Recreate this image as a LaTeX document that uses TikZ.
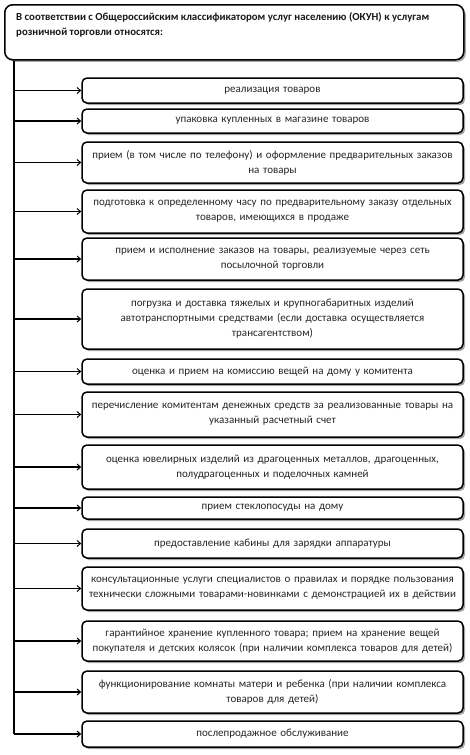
\documentclass[tikz,border=0pt]{standalone}
\usepackage{fontspec}
\setmainfont{Carlito}
\usetikzlibrary{arrows.meta,shadows}
\begin{document}
\begin{tikzpicture}[x=1pt,y=-1pt,
  boxstyle/.style={draw=black, line width=1.5pt, rounded corners=5pt, fill=white,
    drop shadow={shadow xshift=2pt, shadow yshift=-2pt, fill=black, opacity=0.35},
    align=center, text width=376pt, inner sep=0pt, font=\fontsize{11}{15}\selectfont, text=black!85},
  headstyle/.style={draw=black, line width=1.5pt, rounded corners=8pt, fill=white,
    drop shadow={shadow xshift=2pt, shadow yshift=-2pt, fill=black, opacity=0.35}},
  headtext/.style={align=left, inner sep=0pt, font=\bfseries\fontsize{10.8}{15}\selectfont, text=black!90, anchor=north west},
  arr/.style={line width=1.1pt, -{Straight Barb[length=3.5pt,width=6pt,line width=1pt]}},
  spine/.style={line width=1.1pt}
]
\useasboundingbox (0,0) rectangle (470,755);
\newcommand\mybox[4]{%
  \node[boxstyle, minimum width=381pt, minimum height=#3-#2] (#1) at (272.5,{(#2+#3)/2}) {#4};}
\node[headstyle, minimum width=459pt, minimum height=55pt, anchor=north west] (head) at (4,4) {};
\node[headtext] (headlbl) at (16,12.5) {В соответствии с Общероссийским классификатором услуг населению (ОКУН) к услугам\\розничной торговли относятся:};
\mybox{b1}{78}{103}{реализация товаров}
\mybox{b2}{109}{133}{упаковка купленных в магазине товаров}
\mybox{b3}{142}{183}{прием (в том числе по телефону) и оформление предварительных заказов\\на товары}
\mybox{b4}{190}{233}{подготовка к определенному часу по предварительному заказу отдельных\\товаров, имеющихся в продаже}
\mybox{b5}{238}{280}{прием и исполнение заказов на товары, реализуемые через сеть\\посылочной торговли}
\mybox{b6}{289}{349}{погрузка и доставка тяжелых и крупногабаритных изделий\\автотранспортными средствами (если доставка осуществляется\\трансагентством)}
\mybox{b7}{359}{384}{оценка и прием на комиссию вещей на дому у комитента}
\mybox{b8}{392}{437}{перечисление комитентам денежных средств за реализованные товары на\\указанный расчетный счет}
\mybox{b9}{445}{489}{оценка ювелирных изделий из драгоценных металлов, драгоценных,\\полудрагоценных и поделочных камней}
\mybox{b10}{497}{519}{прием стеклопосуды на дому}
\mybox{b11}{529}{558}{предоставление кабины для зарядки аппаратуры}
\mybox{b12}{567}{610}{консультационные услуги специалистов о правилах и порядке пользования\\технически сложными товарами-новинками с демонстрацией их в действии}
\mybox{b13}{621}{661}{гарантийное хранение купленного товара; прием на хранение вещей\\покупателя и детских колясок (при наличии комплекса товаров для детей)}
\mybox{b14}{671}{713}{функционирование комнаты матери и ребенка (при наличии комплекса\\товаров для детей)}
\mybox{b15}{721}{747}{послепродажное обслуживание}
\coordinate (sp) at (14,0);
\draw[spine] (sp |- head.south) -- (sp |- b15.west);
\foreach \b in {b1,b2,b3,b4,b5,b6,b7,b8,b9,b10,b11,b12,b13,b14,b15}
  \draw[arr] (sp |- \b.west) -- (\b.west);
\end{tikzpicture}
\end{document}
